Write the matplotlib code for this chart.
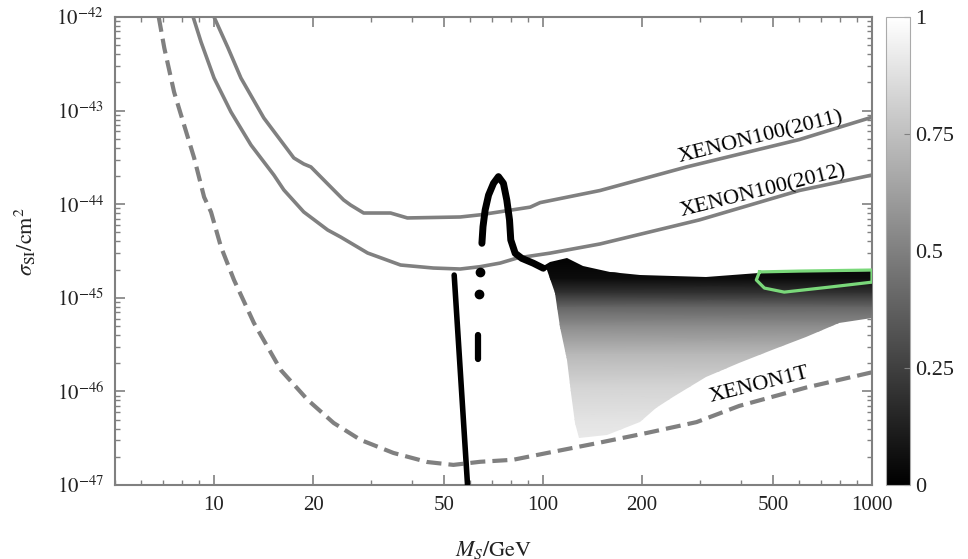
import numpy as np
import matplotlib
matplotlib.use("Agg")
import matplotlib.pyplot as plt
from matplotlib.patches import Polygon
from matplotlib.ticker import FixedLocator, LogLocator, NullFormatter
from matplotlib.cm import ScalarMappable
from matplotlib.colors import Normalize

plt.rcParams['font.family'] = ['Liberation Serif', 'DejaVu Serif']
plt.rcParams['mathtext.fontset'] = 'stix'

# exclusion limits (M in GeV, sigma in cm^2)
x11_M = [10, 11.03, 12.07, 14.17, 17.48, 18.74, 19.7, 23.1, 24.77, 26.0, 28.5, 34.4, 38.7, 56.0,
         64.4, 91.4, 98, 149, 273, 601, 1000]
x11_sig = [1e-42, 4.67e-43, 2.23e-43, 8.34e-44, 3.12e-44, 2.69e-44, 2.5e-44, 1.42e-44, 1.11e-44,
           9.8e-45, 8.05e-45, 8.05e-45, 7.13e-45, 7.3e-45, 7.7e-45, 9.3e-45, 1.04e-44, 1.4e-44,
           2.5e-44, 4.9e-44, 8.5e-44]
x12_M = [8.64, 9.13, 10.0, 11.26, 12.95, 15.2, 16.3, 18.74, 22.16, 24.26, 29.3, 36.9, 46.4, 56.0,
         64.4, 74.1, 83.4, 105, 149, 299, 601, 1000]
x12_sig = [1e-42, 5.41e-43, 2.23e-43, 9.66e-44, 4.29e-44, 2.05e-44, 1.42e-44, 8.26e-45, 5.3e-45,
           4.46e-45, 3.01e-45, 2.24e-45, 2.08e-45, 2.03e-45, 2.15e-45, 2.35e-45, 2.66e-45, 3.0e-45,
           3.76e-45, 6.8e-45, 1.4e-44, 2.05e-44]
x1t_M = [6.79, 7.06, 7.56, 8.11, 8.70, 9.33, 9.79, 10.5, 11.5, 13.22, 15.96, 19.27, 23.1, 27.9,
         35.1, 44.5, 53.4, 64.4, 81.1, 103, 146, 207, 293, 395, 631, 1000]
x1t_sig = [1e-42, 4.67e-43, 1.58e-43, 7.0e-44, 3.12e-44, 1.19e-44, 8.26e-45, 3.49e-45, 1.55e-45,
           5.38e-46, 1.69e-46, 8.1e-47, 4.6e-47, 3.03e-47, 2.2e-47, 1.76e-47, 1.64e-47, 1.77e-47,
           1.86e-47, 2.2e-47, 2.8e-47, 3.6e-47, 4.7e-47, 7.0e-47, 1.1e-46, 1.6e-46]

# scan points: thin resonant strips
strip_M = [53.7, 59.2]
strip_sig = [1.75e-45, 8e-48]
dot_M = [64.4, 63.7]
dot_sig = [1.9e-45, 1.1e-45]
seg_M = [63.3, 63.3]
seg_sig = [4.0e-46, 2.2e-46]
peak_M = [65.2, 65.7, 66.7, 68.3, 70.7, 73.2, 75.8, 77.6, 79.1, 79.8, 82.3, 86.2, 93.5, 100.2]
peak_sig = [3.82e-45, 5.75e-45, 8.67e-45, 1.25e-44, 1.67e-44, 1.97e-44, 1.67e-44, 1.11e-44,
            6.78e-45, 4.15e-45, 2.99e-45, 2.64e-45, 2.34e-45, 2.07e-45]

# outline of the broad scan region (upper edge, then lower edge back)
region_M = [97.9, 105, 118, 132, 160, 197, 314, 498, 1000, 1000, 794, 631, 498, 395, 314, 248, 221,
            197, 156, 129, 125, 122, 118, 113, 109, 103]
region_sig = [2.08e-45, 2.41e-45, 2.66e-45, 2.19e-45, 1.89e-45, 1.75e-45, 1.67e-45, 1.89e-45, 1.93e-45,
              6.1e-46, 5.4e-46, 3.8e-46, 2.77e-46, 2.0e-46, 1.43e-46, 8.7e-47, 6.65e-47, 4.7e-47,
              3.42e-47, 3.18e-47, 4.6e-47, 9.6e-47, 2.16e-46, 4.9e-46, 1.12e-45, 1.98e-45]
# colour value of the points against sigma
shade_sig = [3e-45, 1.6e-45, 1.12e-45, 7.9e-46, 5.0e-46, 2.5e-46, 1.12e-46, 5.0e-47, 2.0e-47]
shade_val = [0.0, 0.05, 0.2, 0.4, 0.55, 0.72, 0.83, 0.89, 0.93]

# green contour
green_M = [455, 601, 1000, 1000, 741, 541, 471, 445, 455]
green_sig = [1.89e-45, 1.93e-45, 1.98e-45, 1.47e-45, 1.30e-45, 1.15e-45, 1.27e-45, 1.55e-45, 1.89e-45]

fig = plt.figure(figsize=(9.68, 5.59), dpi=100)
ax = fig.add_axes([115 / 968, 1 - 485 / 559, 757 / 968, 468 / 559])
ax.set_xscale('log')
ax.set_yscale('log')

gray = '#808080'
ax.plot(x11_M, x11_sig, color=gray, lw=2.6, zorder=2)
ax.plot(x12_M, x12_sig, color=gray, lw=2.6, zorder=2)
ax.plot(x1t_M, x1t_sig, color=gray, lw=3, dashes=(3.6, 1.7), zorder=2)

# shaded region
xx, yy = np.meshgrid([90, 1100], shade_sig)
cc = np.repeat(np.array(shade_val)[:, None], 2, axis=1)
mesh = ax.pcolormesh(xx, yy, cc, shading='gouraud', cmap='gray', vmin=0, vmax=1, zorder=3)
outline = Polygon(np.column_stack([region_M, region_sig]), closed=True, transform=ax.transData)
mesh.set_clip_path(outline)

ax.plot(strip_M, strip_sig, color='black', lw=4, solid_capstyle='round', zorder=4)
ax.plot(seg_M, seg_sig, color='black', lw=4.5, solid_capstyle='round', zorder=4)
ax.plot(dot_M, dot_sig, 'o', color='black', ms=6, zorder=4)
ax.plot(peak_M, peak_sig, color='black', lw=5, solid_capstyle='round', solid_joinstyle='round', zorder=4)

ax.plot(green_M, green_sig, color='#7ad87a', lw=2.3, solid_joinstyle='round', zorder=5)

ax.text(460, 5.2e-44, 'XENON100(2011)', fontsize=16, rotation=14, ha='center', va='center', zorder=6)
ax.text(465, 1.35e-44, 'XENON100(2012)', fontsize=16, rotation=14, ha='center', va='center', zorder=6)
ax.text(455, 1.15e-46, 'XENON1T', fontsize=16, rotation=14, ha='center', va='center', zorder=6)

ax.set_xlim(5, 1000)
ax.set_ylim(1e-47, 1e-42)

xticks = [10, 20, 50, 100, 200, 500, 1000]
ax.xaxis.set_major_locator(FixedLocator(xticks))
ax.set_xticklabels([str(t) for t in xticks])
ax.xaxis.set_minor_locator(LogLocator(base=10, subs=range(2, 10), numticks=20))
ax.xaxis.set_minor_formatter(NullFormatter())
yticks = [1e-47, 1e-46, 1e-45, 1e-44, 1e-43, 1e-42]
ax.yaxis.set_major_locator(FixedLocator(yticks))
ax.set_yticklabels([r'$10^{%d}$' % round(np.log10(t)) for t in yticks])
ax.yaxis.set_minor_locator(LogLocator(base=10, subs=range(2, 10), numticks=20))
ax.yaxis.set_minor_formatter(NullFormatter())

ax.tick_params(which='both', direction='in', top=True, right=True, color=gray, labelsize=15,
               labelcolor='#222222')
ax.tick_params(which='major', length=7, width=1.2, pad=8)
ax.tick_params(which='minor', length=3.5, width=1)
for s in ax.spines.values():
    s.set_color(gray)
    s.set_linewidth(1.5)

ax.set_xlabel(r'$M_S/\mathrm{GeV}$', fontsize=16, color='#222222')
ax.xaxis.set_label_coords(0.5, -0.115)
ax.set_ylabel(r'$\sigma_{\rm SI}/\mathrm{cm}^2$', fontsize=16, color='#222222')
ax.yaxis.set_label_coords(-0.102, 0.52)

cax = fig.add_axes([886 / 968, 1 - 485 / 559, 24 / 968, 468 / 559])
cb = fig.colorbar(ScalarMappable(norm=Normalize(0, 1), cmap='gray'), cax=cax)
cb.set_ticks([0, 0.25, 0.5, 0.75, 1])
cb.set_ticklabels(['0', '0.25', '0.5', '0.75', '1'])
cb.outline.set_edgecolor('#aaaaaa')
cax.tick_params(direction='in', length=4, color=gray, labelsize=16, labelcolor='#222222')

fig.savefig('out.png', dpi=100)
